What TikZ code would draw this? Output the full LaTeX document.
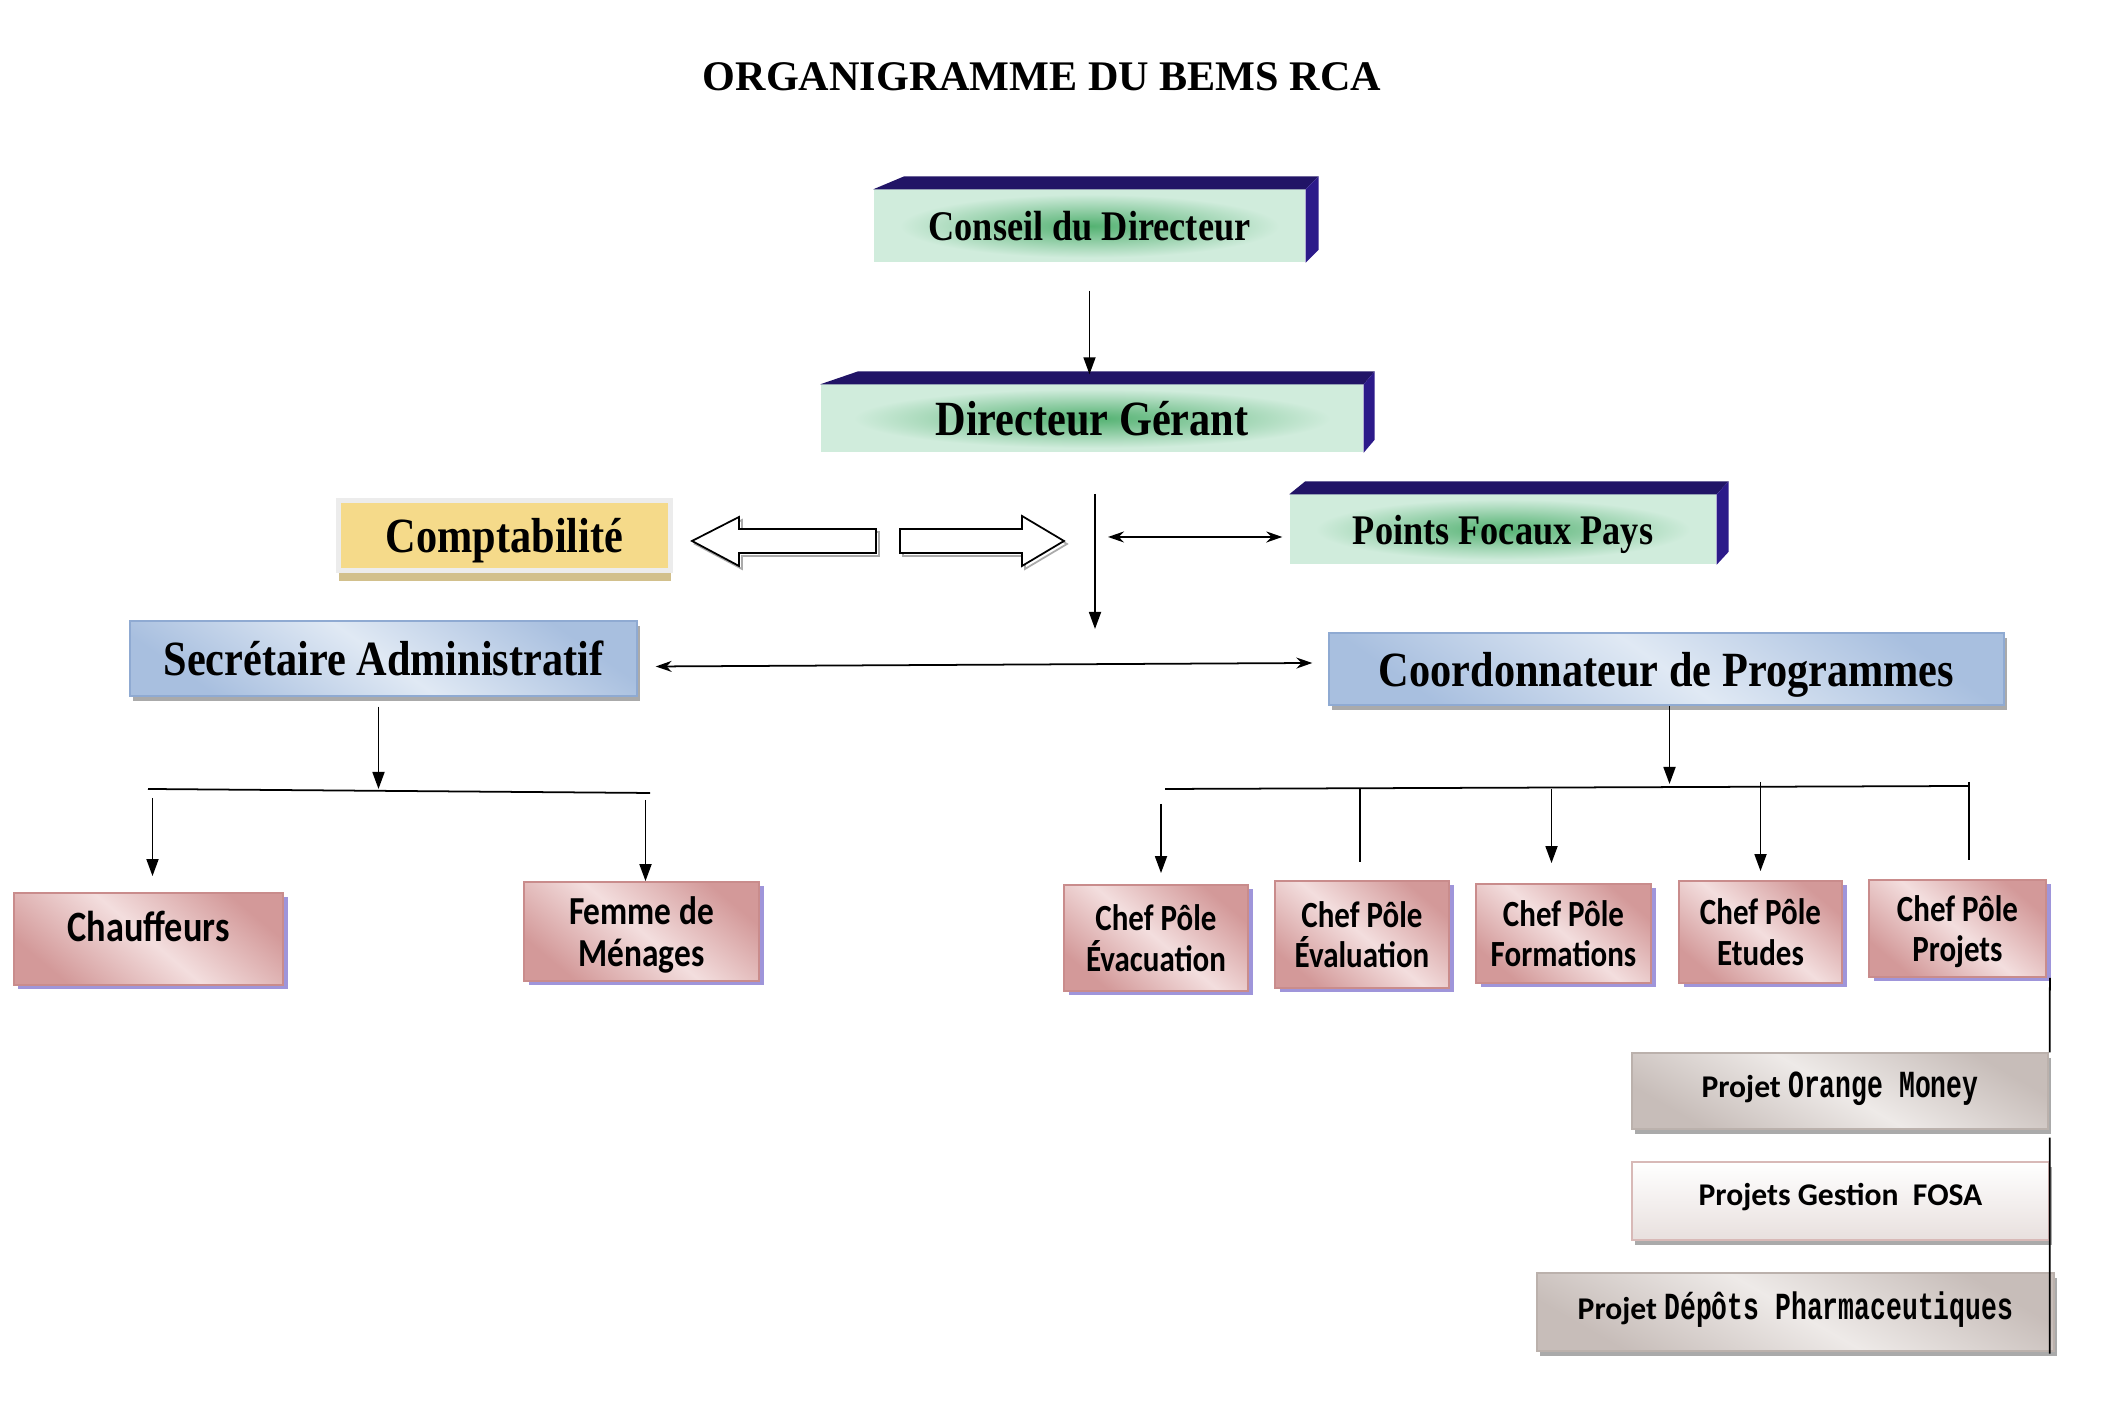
\documentclass[tikz,border=0pt]{standalone}
\usepackage{fontspec}
\setmainfont{Liberation Serif}
\newfontfamily\condserif[FakeStretch=0.86]{Liberation Serif}
\newfontfamily\condsans[FakeStretch=0.84]{Carlito}
\newfontfamily\plainsans{Carlito}
\newfontfamily\narrowmono[FakeStretch=0.69]{Liberation Mono}
\usetikzlibrary{arrows.meta, calc, shadows}
\definecolor{GlowGreen}{RGB}{84,178,114}
\definecolor{MidGreen}{RGB}{145,206,166}
\definecolor{MintGreen}{RGB}{208,236,220}
\definecolor{NavyTop}{RGB}{33,20,102}
\definecolor{NavySide}{RGB}{44,26,138}
\definecolor{CompYellow}{RGB}{245,218,138}
\definecolor{FrameGray}{RGB}{236,236,236}
\definecolor{TanShadow}{RGB}{210,192,140}
\definecolor{BlueDark}{RGB}{168,191,223}
\definecolor{BlueLight}{RGB}{224,233,244}
\definecolor{BlueEdge}{RGB}{143,170,210}
\definecolor{PinkDark}{RGB}{211,153,153}
\definecolor{PinkLight}{RGB}{243,222,222}
\definecolor{PinkEdge}{RGB}{201,140,140}
\definecolor{Lavender}{RGB}{159,149,218}
\definecolor{GrayDark}{RGB}{199,189,185}
\definecolor{GrayLight}{RGB}{238,234,232}
\definecolor{GrayEdge}{RGB}{187,177,172}
\definecolor{FosaGray}{RGB}{232,224,222}
\definecolor{FosaEdge}{RGB}{216,185,183}
\definecolor{ShadowGray}{RGB}{170,170,170}
\pgfdeclareradialshading{glow}{\pgfpoint{0bp}{0bp}}{color(0bp)=(GlowGreen); color(11bp)=(MidGreen); color(22bp)=(MintGreen); color(50bp)=(MintGreen)}
\newcommand{\navyslab}[4]{%
  \fill[NavyTop] (#1.north west) -- ++(#2,#4) -- ($(#1.north east)+(#3,#4)$) -- (#1.north east) -- cycle;
  \fill[NavySide] (#1.north east) -- ++(#3,#4) -- ($(#1.south east)+(#3,#4)$) -- (#1.south east) -- cycle;}
\newcommand{\monotxt}[1]{{\narrowmono\fontsize{10.9}{12}\selectfont #1}}
\tikzset{
  box/.style={inner sep=0pt, align=center, text depth=0pt},
  link/.style={line width=0.5pt},
  tip/.style={link, -{Triangle[length=1.7mm,width=1.2mm]}},
  twotip/.style={link, {Stealth[length=1.6mm,width=1.1mm]}-{Stealth[length=1.6mm,width=1.1mm]}},
  bigserif/.style={font=\condserif\bfseries\fontsize{14}{16}\selectfont},
  greenslab/.style={box, shade, shading=glow, font=\condserif\bfseries\fontsize{12}{14}\selectfont},
  bluebox/.style={box, bigserif, top color=BlueDark, bottom color=BlueDark, middle color=BlueLight, shading angle=-35,
    draw=BlueEdge, line width=0.4pt, general shadow={fill=ShadowGray, shadow xshift=0.3mm, shadow yshift=-0.5mm}},
  pinkbox/.style={box, top color=PinkDark, bottom color=PinkDark, middle color=PinkLight, shading angle=-40,
    draw=PinkEdge, line width=0.5pt, general shadow={fill=Lavender, shadow xshift=0.45mm, shadow yshift=-0.45mm},
    font=\condsans\bfseries\fontsize{10.5}{11.6}\selectfont},
  graybox/.style={box, text depth=1.3mm, top color=GrayDark, bottom color=GrayDark, middle color=GrayLight, shading angle=-30,
    draw=GrayEdge, line width=0.4pt, general shadow={fill=ShadowGray, shadow xshift=0.3mm, shadow yshift=-0.5mm},
    font=\plainsans\bfseries\fontsize{9}{11}\selectfont}
}
\begin{document}
\begin{tikzpicture}[x=1mm, y=1mm]
\useasboundingbox (0,0) rectangle (212.2,141);
\node[font=\bfseries\fontsize{12}{14}\selectfont] (title) at (104.2,133.3) {ORGANIGRAMME DU BEMS RCA};

\node[greenslab, minimum width=43.1mm, minimum height=7.2mm] (cd) at (108.95,118.4) {Conseil du Directeur};
\navyslab{cd}{3.1}{1.3}{1.3}
\node[greenslab, bigserif, minimum width=54.2mm, minimum height=6.7mm] (dg) at (109.2,99.15) {Directeur Gérant};
\navyslab{dg}{3.8}{1.1}{1.3}
\node[greenslab, minimum width=42.6mm, minimum height=6.9mm] (pf) at (150.3,88.05) {Points Focaux Pays};
\navyslab{pf}{1.6}{1.2}{1.3}

\node[box, bigserif, fill=CompYellow, draw=FrameGray, line width=0.5mm, general shadow={fill=TanShadow, shadow yshift=-1.1mm},
  minimum width=33.2mm, minimum height=7.0mm] (cpt) at (50.45,87.45) {Comptabilité};

\draw[ShadowGray, line width=0.5pt, shift={(0.3,-0.3)}] (69.2,86.9) -- (73.9,89.3) -- (73.9,88.1) -- (87.6,88.1) -- (87.6,85.7) -- (73.9,85.7) -- (73.9,84.4) -- cycle;
\draw[fill=white, line width=0.5pt] (69.2,86.9) -- (73.9,89.3) -- (73.9,88.1) -- (87.6,88.1) -- (87.6,85.7) -- (73.9,85.7) -- (73.9,84.4) -- cycle;
\draw[ShadowGray, line width=0.5pt, shift={(0.3,-0.3)}] (106.4,86.9) -- (102.2,89.4) -- (102.2,88.1) -- (90.0,88.1) -- (90.0,85.7) -- (102.2,85.7) -- (102.2,84.4) -- cycle;
\draw[fill=white, line width=0.5pt] (106.4,86.9) -- (102.2,89.4) -- (102.2,88.1) -- (90.0,88.1) -- (90.0,85.7) -- (102.2,85.7) -- (102.2,84.4) -- cycle;

\node[bluebox, minimum width=50.7mm, minimum height=7.5mm] (sa) at (38.35,75.15) {Secrétaire Administratif};
\node[bluebox, minimum width=67.5mm, minimum height=7.2mm] (cp) at (166.65,74.1) {Coordonnateur de Programmes};

\node[pinkbox, font=\condsans\bfseries\fontsize{12.3}{14}\selectfont, text height=3.2mm, text depth=2.6mm,
  minimum width=26.9mm, minimum height=9.2mm] (ch) at (14.85,47.1) {Chauffeurs};
\node[pinkbox, font=\condsans\bfseries\fontsize{11.3}{12}\selectfont, minimum width=23.5mm, minimum height=9.9mm] (fm) at (64.15,47.85) {Femme de\\Ménages};

\node[pinkbox, minimum width=18.4mm, minimum height=10.6mm] (e1) at (115.6,47.2) {Chef Pôle\\Évacuation};
\node[pinkbox, minimum width=17.4mm, minimum height=10.7mm] (e2) at (136.2,47.55) {Chef Pôle\\Évaluation};
\node[pinkbox, minimum width=17.5mm, minimum height=9.9mm] (fo) at (156.35,47.65) {Chef Pôle\\Formations};
\node[pinkbox, minimum width=16.3mm, minimum height=10.2mm] (et) at (176.05,47.8) {Chef Pôle\\Etudes};
\node[pinkbox, minimum width=17.7mm, minimum height=9.7mm] (pj) at (195.75,48.15) {Chef Pôle\\Projets};

\node[graybox, minimum width=41.6mm, minimum height=7.6mm] (om) at (184.0,31.9) {Projet \monotxt{Orange Money}};
\node[graybox, top color=white, bottom color=FosaGray, draw=FosaEdge, minimum width=41.7mm, minimum height=7.8mm] (fs) at (184.05,20.9) {Projets Gestion\ \ FOSA};
\node[graybox, minimum width=51.7mm, minimum height=7.8mm] (dp) at (179.55,9.8) {Projet \monotxt{Dépôts Pharmaceutiques}};

\coordinate (vtop) at (109.5,91.6);
\coordinate (vbot) at (109.5,78.1);
\coordinate (pfl) at (110.8,87.3);
\coordinate (sbl) at (14.8,62.1);
\coordinate (sbr) at (65.0,61.7);
\coordinate (cbl) at (116.5,62.1);
\coordinate (cbr) at (196.9,62.4);

\draw[tip] ($(cd.south)+(0,-2.8)$) -- ($(cd.south |- dg.north)+(0,1)$);
\draw[tip] (vtop) -- (vbot);
\draw[twotip] (pfl) -- ($(pfl -| pf.west)+(-0.7,0)$);
\draw[twotip] ($(sa.east)+(1.8,-0.8)$) -- ($(cp.west)+(-1.6,0.6)$);

\draw[link] (sbl) -- (sbr);
\draw[tip] ($(sa.south)+(-0.5,-1)$) -- ($(sa.south |- sbl)+(-0.5,0)$);
\draw[tip] ($(sbl -| ch.north)+(0.4,-0.9)$) -- ($(ch.north)+(0.4,1.6)$);
\draw[tip] ($(sbr -| fm.north)+(0.4,-0.7)$) -- ($(fm.north)+(0.4,0)$);

\draw[link] (cbl) -- (cbr);
\draw[tip] ($(cp.south)+(0.3,0)$) -- ($(cp.south |- cbr)+(0.3,0.2)$);
\draw[tip] ($(cbl -| e1.north)+(0.5,-1.5)$) -- ($(e1.north)+(0.5,1.1)$);
\draw[link] ($(cbl -| e2.north)+(-0.2,0)$) -- ($(e2.north)+(-0.2,1.8)$);
\draw[tip] ($(cbl -| fo.north)+(-1.2,0)$) -- ($(fo.north)+(-1.2,2.0)$);
\draw[tip] ($(cbr -| et.north)+(0,0.4)$) -- ($(et.north)+(0,0.9)$);
\draw[link] ($(cbr)+(0,0.4)$) -- ($(cbr |- pj.north)+(0,1.9)$);

\draw[link] ($(pj.south east)+(0.3,0)$) -- ($(om.north east)+(0.1,0)$);
\draw[link] ($(om.south east)+(0.1,-0.8)$) -- ($(dp.south east)+(-0.5,-0.2)$);
\end{tikzpicture}
\end{document}
